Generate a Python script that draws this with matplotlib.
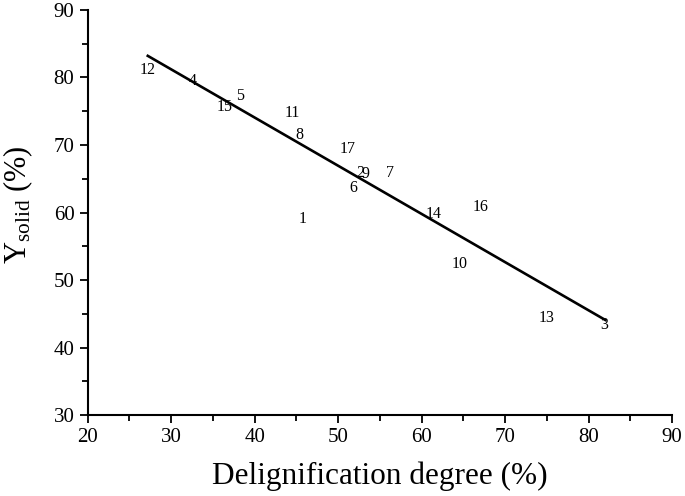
import numpy as np
import matplotlib
matplotlib.use("Agg")
import matplotlib.pyplot as plt
from matplotlib.ticker import MultipleLocator

plt.rcParams["font.family"] = ["Liberation Serif", "DejaVu Serif"]
plt.rcParams["mathtext.fontset"] = "custom"
plt.rcParams["mathtext.rm"] = "Liberation Serif"
plt.rcParams["mathtext.it"] = "Liberation Serif:italic"

# Run numbers, delignification degree (%) and solid yield (%)
run_ids = ["1", "2", "3", "4", "5", "6", "7", "8", "9", "10",
           "11", "12", "13", "14", "15", "16", "17"]
delig = [45.8, 52.6, 81.9, 32.6, 38.2, 51.8, 56.2, 45.4, 53.3, 64.6,
         44.5, 27.2, 75.0, 61.5, 36.4, 67.1, 51.2]
y_solid = [59.0, 65.9, 43.3, 79.5, 77.3, 63.6, 65.9, 71.5, 65.7, 52.4,
           74.7, 81.1, 44.4, 59.8, 75.6, 60.8, 69.4]

# Linear fit line end points
fit_x = [27.2, 82.0]
fit_y = [83.2, 44.1]

fig = plt.figure(figsize=(6.85, 4.96), dpi=100)
ax = fig.add_axes([0.128, 0.163, 0.853, 0.817])

for lab, x, y in zip(run_ids, delig, y_solid):
    ax.text(x, y, lab, ha="center", va="center", fontsize=11.5)

ax.plot(fit_x, fit_y, color="black", lw=1.9)

ax.set_xlim(20, 90)
ax.set_ylim(30, 90)
ax.xaxis.set_major_locator(MultipleLocator(10))
ax.xaxis.set_minor_locator(MultipleLocator(5))
ax.yaxis.set_major_locator(MultipleLocator(10))
ax.yaxis.set_minor_locator(MultipleLocator(5))
ax.tick_params(which="major", direction="out", length=6, width=1.3, labelsize=15)
ax.tick_params(which="minor", direction="out", length=4, width=1.3)
for s in ["top", "right"]:
    ax.spines[s].set_visible(False)
for s in ["left", "bottom"]:
    ax.spines[s].set_linewidth(1.5)

ax.set_xlabel("Delignification degree (%)", fontsize=22.5, labelpad=10)
ax.set_ylabel(r"Y$_{\mathrm{solid}}$ (%)", fontsize=22)
ax.yaxis.set_label_coords(-0.09, 0.52)

fig.savefig("out.png", dpi=100)
